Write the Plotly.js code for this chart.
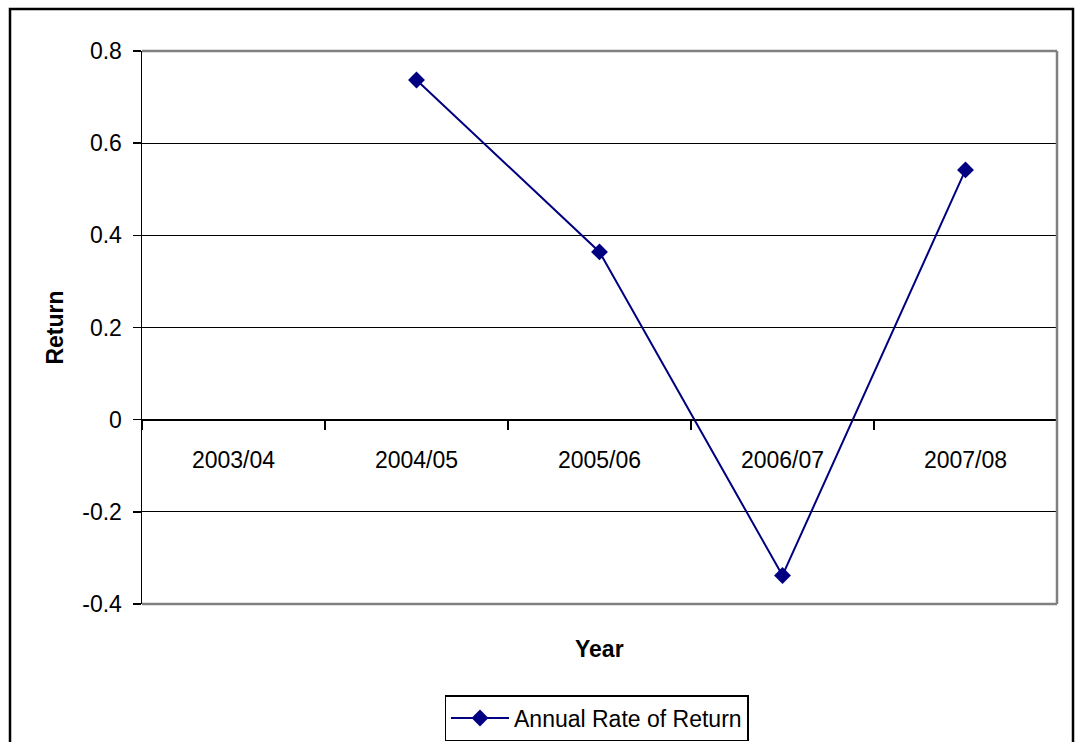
<!DOCTYPE html>
<html>
<head>
<meta charset="utf-8">
<script src="https://cdn.plot.ly/plotly-3.0.1.min.js"></script>
<style>html,body{margin:0;padding:0;background:#fff;}#chart{width:1077px;height:742px;}</style>
</head>
<body>
<div id="chart"></div>
<script>
const categories = ["2003/04", "2004/05", "2005/06", "2006/07", "2007/08"];
const returns = [null, 0.737, 0.364, -0.338, 0.542];
const yTicks = [-0.4, -0.2, 0, 0.2, 0.4, 0.6, 0.8];
const yTickLabels = ["-0.4", "-0.2", "0", "0.2", "0.4", "0.6", "0.8"];
const seriesName = "Annual Rate of Return";

const FONT = "Liberation Sans, Arial, sans-serif";
const yMin = -0.4, yMax = 0.8;
const zeroPos = (0 - yMin) / (yMax - yMin);

const trace = {
  x: categories,
  y: returns,
  type: "scatter",
  mode: "lines+markers",
  name: seriesName,
  connectgaps: false,
  line: {color: "#000080", width: 2},
  marker: {symbol: "diamond", size: 13, color: "#000080"}
};

const layout = {
  width: 1077,
  height: 742,
  margin: {l: 142, r: 20, t: 51, b: 138},
  paper_bgcolor: "#ffffff",
  plot_bgcolor: "#ffffff",
  font: {family: FONT, size: 23, color: "#000"},
  showlegend: true,
  xaxis: {
    type: "category",
    range: [-0.5, 4.5],
    anchor: "free",
    position: zeroPos,
    showline: true,
    linecolor: "#000",
    linewidth: 1.5,
    ticks: "outside",
    tickson: "boundaries",
    ticklen: 9,
    tickwidth: 1.5,
    tickcolor: "#000",
    ticklabelstandoff: 19,
    showgrid: false,
    zeroline: false,
    automargin: false,
    tickfont: {family: FONT, size: 23, color: "#000"},
    fixedrange: true
  },
  yaxis: {
    range: [yMin, yMax],
    tickvals: yTicks,
    ticktext: yTickLabels,
    ticks: "outside",
    ticklen: 8,
    tickwidth: 1.5,
    tickcolor: "#000",
    showline: true,
    linecolor: "#000",
    linewidth: 1.5,
    showgrid: true,
    gridcolor: "#000",
    gridwidth: 1,
    zeroline: false,
    automargin: false,
    ticklabelstandoff: 6,
    tickfont: {family: FONT, size: 23, color: "#000"},
    title: {text: "<b>Return</b>", font: {family: FONT, size: 23, color: "#000"}, standoff: 12},
    fixedrange: true
  },
  legend: {
    orientation: "h",
    xref: "container",
    yref: "container",
    x: 596.5 / 1077,
    xanchor: "center",
    y: 1 - 695 / 742,
    yanchor: "top",
    bordercolor: "#000",
    borderwidth: 1.5,
    bgcolor: "#fff",
    font: {family: FONT, size: 23, color: "#000"},
    itemwidth: 58
  },
  annotations: [
    {text: "<b>Year</b>", xref: "paper", yref: "paper", x: 0.5, y: 1 - (649 - 51) / 553,
     xanchor: "center", yanchor: "middle", showarrow: false,
     font: {family: FONT, size: 23, color: "#000"}}
  ],
  shapes: [
    {type: "line", xref: "paper", yref: "paper", x0: 0, x1: 1, y0: 1, y1: 1, line: {color: "#808080", width: 2.5}, layer: "above"},
    {type: "line", xref: "paper", yref: "paper", x0: 1, x1: 1, y0: 0, y1: 1, line: {color: "#808080", width: 2.5}, layer: "above"},
    {type: "line", xref: "paper", yref: "paper", x0: 0, x1: 1, y0: 0, y1: 0, line: {color: "#808080", width: 2.5}, layer: "above"},
    {type: "rect", xref: "paper", yref: "paper", x0: (10 - 142) / 915, x1: (1073 - 142) / 915, y0: -0.3, y1: 1 + 42 / 553, line: {color: "#000", width: 2.5}, fillcolor: "rgba(0,0,0,0)", layer: "above"}
  ]
};

Plotly.newPlot("chart", [trace], layout, {displayModeBar: false, staticPlot: true});
</script>
</body>
</html>
